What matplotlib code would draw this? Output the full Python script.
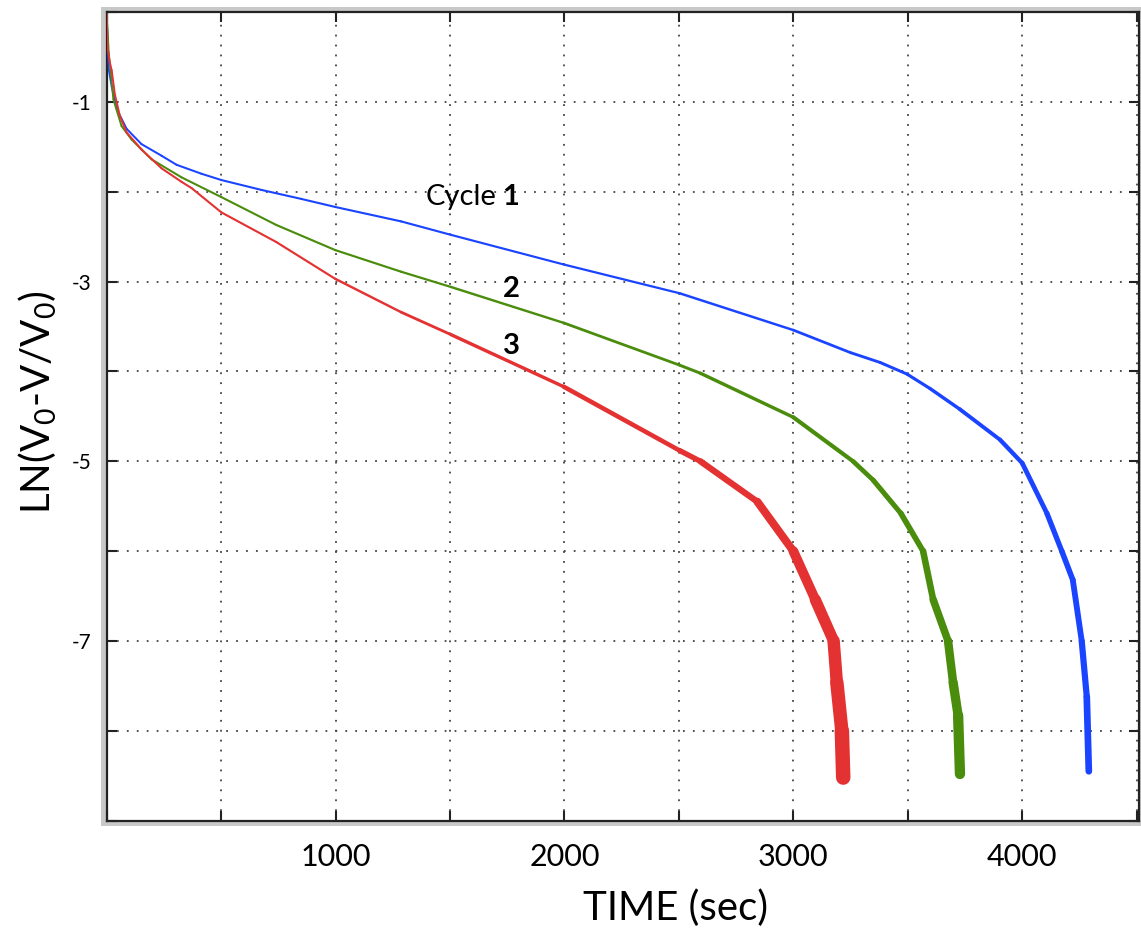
import numpy as np
import matplotlib
matplotlib.use("Agg")
import matplotlib.pyplot as plt
from matplotlib.collections import LineCollection
from matplotlib.patches import Rectangle

plt.rcParams['font.family'] = ['Lato', 'DejaVu Sans']
plt.rcParams['mathtext.fontset'] = 'custom'
plt.rcParams['mathtext.rm'] = 'Lato'

# === Data ===
blue_t = [0, 9, 22, 44, 87, 152, 240, 305, 414, 501, 676, 850, 999, 1286, 1504, 1997,
          2503, 3000, 3249, 3379, 3497, 3597, 3727, 3903, 4000, 4108, 4173, 4221, 4260,
          4282, 4291]
blue_y = [-0.02, -0.64, -0.83, -1.08, -1.30, -1.47, -1.60, -1.70, -1.80, -1.87, -1.98,
          -2.08, -2.17, -2.33, -2.48, -2.81, -3.13, -3.54, -3.79, -3.90, -4.03, -4.19,
          -4.42, -4.76, -5.02, -5.58, -6.0, -6.32, -7.0, -7.62, -8.45]

green_t = [0, 9, 29, 65, 109, 196, 327, 501, 741, 999, 1286, 1504, 1997, 2503, 2594,
           3000, 3261, 3349, 3470, 3567, 3611, 3676, 3698, 3720, 3728]
green_y = [-0.02, -0.45, -0.97, -1.27, -1.42, -1.64, -1.84, -2.06, -2.37, -2.65, -2.89,
           -3.06, -3.46, -3.93, -4.02, -4.51, -5.0, -5.21, -5.58, -6.0, -6.54, -7.0,
           -7.46, -7.83, -8.48]

red_t = [0, 4, 13, 22, 36, 58, 87, 152, 240, 327, 371, 501, 741, 999, 1286, 1504, 1997,
         2503, 2594, 2843, 3000, 3096, 3176, 3190, 3212, 3218]
red_y = [-0.02, -0.4, -0.55, -0.65, -0.92, -1.16, -1.34, -1.53, -1.74, -1.89, -1.96,
         -2.23, -2.56, -2.97, -3.34, -3.59, -4.17, -4.88, -5.0, -5.45, -6.0, -6.54, -7.0,
         -7.46, -8.0, -8.52]

x_ticks = np.arange(0, 4501, 500)
x_labels = [str(v) if v in (1000, 2000, 3000, 4000) else '' for v in x_ticks]
y_ticks = np.arange(-9, 1)
y_labels = [str(v) if v in (-1, -3, -5, -7) else '' for v in y_ticks]

# line thickness grows with depth (noisy tail in the original), px
depth_knots = [0, 3, 4, 5, 6, 7, 8.5]
series = [
    (blue_t, blue_y, '#1a44ff', [1.8, 2.2, 3.0, 4.5, 5.5, 6.0, 7.0]),
    (green_t, green_y, '#4a8c0c', [1.8, 2.2, 3.0, 4.5, 6.0, 8.0, 11.0]),
    (red_t, red_y, '#e43232', [1.8, 2.2, 3.5, 5.5, 9.0, 12.0, 15.0]),
]

# === Plot ===
fig = plt.figure(figsize=(11.41, 9.30), dpi=100)
fig.add_artist(Rectangle((0.0885, 0.1118), 0.9115, 0.8806, transform=fig.transFigure,
                         facecolor='#c8c8c8', edgecolor='none', zorder=-1))
ax = fig.add_axes([0.0935, 0.1175, 0.9047, 0.8696])
ax.set_facecolor('white')

for t, y, col, wk in series:
    pts = np.column_stack([t, y])
    segs = np.stack([pts[:-1], pts[1:]], axis=1)
    w = np.interp(-np.asarray(y), depth_knots, wk) * 0.72
    lc = LineCollection(segs, colors=col, linewidths=(w[:-1] + w[1:]) / 2,
                        capstyle='round', zorder=3)
    ax.add_collection(lc)

ax.set_xlim(0, 4510)
ax.set_ylim(-9, 0)
ax.set_xticks(x_ticks)
ax.set_xticklabels(x_labels, fontsize=22)
ax.set_yticks(y_ticks)
ax.set_yticklabels(y_labels, fontsize=15)
ax.tick_params(direction='in', length=7, width=1.5, top=True, right=True, colors='#222222')
ax.tick_params(axis='x', pad=16, labelcolor='black')
ax.tick_params(axis='y', pad=11, labelcolor='black')
for s in ax.spines.values():
    s.set_linewidth(1.6)
    s.set_color('#222222')
ax.grid(True, color='#444444', linewidth=1.3, linestyle=(0, (1, 4.5)))

ax.set_xlabel('TIME (sec)', fontsize=29)
ax.set_ylabel(r'LN(V$_\mathregular{0}$-V/V$_\mathregular{0}$)', fontsize=29)
ax.yaxis.set_label_coords(-0.046, 0.518)
ax.xaxis.set_label_coords(0.551, -0.085)

ax.text(1395, -2.06, 'Cycle', fontsize=21, ha='left', va='center')
ax.text(1801, -2.06, '1', fontsize=21, fontweight='bold', ha='right', va='center')
ax.text(1770, -3.08, '2', fontsize=21, fontweight='bold', ha='center', va='center')
ax.text(1770, -3.72, '3', fontsize=21, fontweight='bold', ha='center', va='center')

fig.savefig('out.png', dpi=100)
